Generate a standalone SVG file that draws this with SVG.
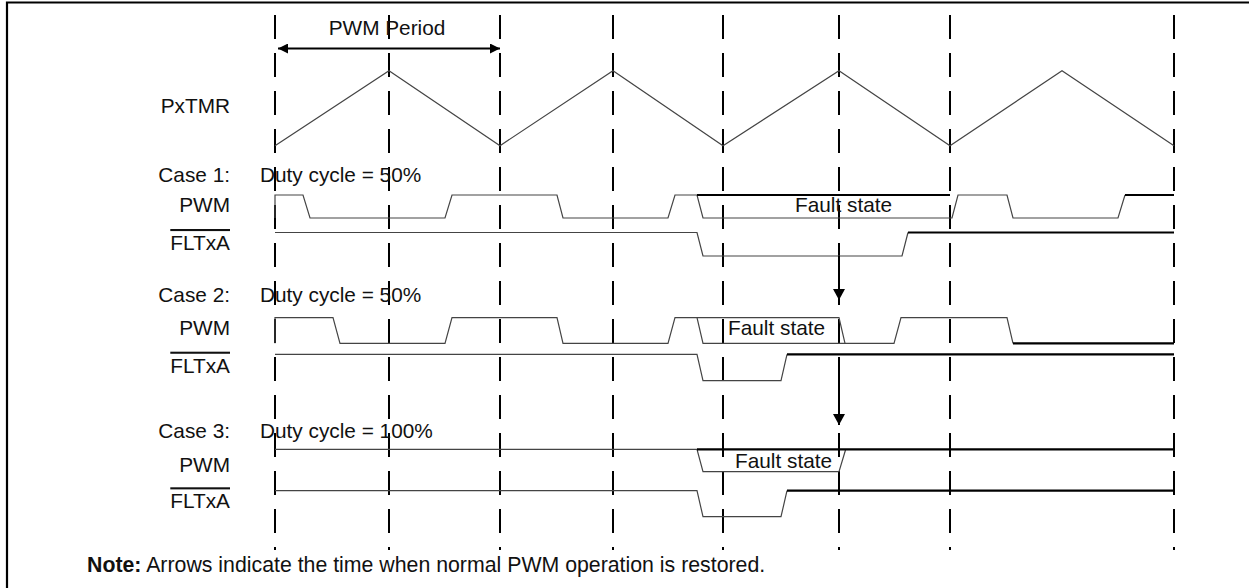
<svg xmlns="http://www.w3.org/2000/svg" width="1249" height="588" viewBox="0 0 1249 588">
<style>
text{font-family:"Liberation Sans",Arial,sans-serif;font-size:20.8px;fill:#111}
.lbl{text-anchor:end}
.ov{text-decoration:overline}
.grid line{stroke:#000;stroke-width:2;stroke-dasharray:24 14}
.thin{fill:none;stroke:#444;stroke-width:1.2;stroke-linejoin:miter}
.thick{fill:none;stroke:#000;stroke-width:2.2}
.conn{stroke:#000;stroke-width:2;fill:none}
</style>
<defs>
<marker id="ah" viewBox="0 0 10 10" refX="10" refY="5" markerWidth="10" markerHeight="10" markerUnits="userSpaceOnUse" orient="auto-start-reverse">
<path d="M0,0 L10,5 L0,10 Z" fill="#000"/>
</marker>
<marker id="dh" viewBox="0 0 11 12" refX="11" refY="6" markerWidth="11" markerHeight="12" markerUnits="userSpaceOnUse" orient="auto">
<path d="M0,0 L11,6 L0,12 Z" fill="#000"/>
</marker>
</defs>
<rect width="1249" height="588" fill="#fff"/>
<path d="M7,592 V2.5 H1252" fill="none" stroke="#000" stroke-width="2.2"/>

<g id="gridlines" class="grid">
<line x1="275" y1="15" x2="275" y2="550"/>
<line x1="389" y1="15" x2="389" y2="550"/>
<line x1="500" y1="15" x2="500" y2="550"/>
<line x1="613" y1="15" x2="613" y2="550"/>
<line x1="723" y1="15" x2="723" y2="550"/>
<line x1="839" y1="15" x2="839" y2="550"/>
<line x1="950" y1="15" x2="950" y2="550"/>
<line x1="1174" y1="15" x2="1174" y2="550"/>
</g>

<g id="pwm-period">
<text x="387" y="35" text-anchor="middle">PWM Period</text>
</g>

<g id="pxtmr">
<text class="lbl" x="230" y="113">PxTMR</text>
<path class="thin" d="M275,145.7 L389,70.7 L500,145.7 L613,70.7 L723,145.7 L839,70.7 L950,145.7 L1062,70.7 L1174,145.7"/>
</g>

<g id="case1">
<text class="lbl" x="230" y="182">Case 1:</text>
<text x="260" y="182">Duty cycle = 50%</text>
</g>
<g id="case1-pwm">
<text class="lbl" x="230" y="211.7">PWM</text>
<path class="thin" d="M275,218 V195 H303 L310,218 H445 L452,195 H557 L563,218 H668 L675,195 H697 L703,218 H952 L958,195 H1007 L1013,218 H1118 L1125,195"/>
<path class="thick" d="M697,195 H950 M1125,195 H1174"/>
<text x="795" y="211.7">Fault state</text>
</g>
<g id="case1-flt">
<text class="lbl ov" x="230" y="250">FLTxA</text>
<path class="thin" d="M275,232.5 H697 L703,256 H902 L908,232.5"/>
<path class="thick" d="M908,232.5 H1174"/>
</g>

<g id="case2">
<text class="lbl" x="230" y="301.7">Case 2:</text>
<text x="260" y="301.7">Duty cycle = 50%</text>
</g>
<g id="case2-pwm">
<text class="lbl" x="230" y="335">PWM</text>
<path class="thin" d="M275,343.3 V317.7 H333 L340,343.3 H445 L452,317.7 H557 L563,343.3 H668 L675,317.7 H697 L703,343.3 H894 L901,317.7 H1007 L1013,343.3"/>
<path class="thin" d="M697,317.7 H839 L845,343.3"/>
<path class="thick" d="M1013,343.3 H1174"/>
<text x="728" y="335">Fault state</text>
</g>
<g id="case2-flt">
<text class="lbl ov" x="230" y="372.7">FLTxA</text>
<path class="thin" d="M275,354.3 H697 L703,380.7 H781 L787,354.3"/>
<path class="thick" d="M787,354.3 H1174"/>
</g>

<g id="case3">
<text class="lbl" x="230" y="438.3">Case 3:</text>
<text x="260" y="438.3">Duty cycle = 100%</text>
</g>
<g id="case3-pwm">
<text class="lbl" x="230" y="471.7">PWM</text>
<path class="thin" d="M275,449.3 H697 L703,471.7 H839 L845.5,450"/>
<path class="thick" d="M697,449.3 H1174"/>
<text x="735" y="468">Fault state</text>
</g>
<g id="case3-flt">
<text class="lbl ov" x="230" y="508.3">FLTxA</text>
<path class="thin" d="M275,490.7 H697 L703,516.7 H781 L787,490.7"/>
<path class="thick" d="M787,490.7 H1174"/>
</g>

<g id="connectors">
<line class="conn" x1="278" y1="48.5" x2="500" y2="48.5" marker-start="url(#ah)" marker-end="url(#ah)"/>
<line class="conn" x1="839" y1="256" x2="839" y2="300" marker-end="url(#dh)"/>
<line class="conn" x1="839" y1="379" x2="839" y2="425" marker-end="url(#dh)"/>
</g>

<g id="note">
<text x="87" y="571.7" style="font-size:21.3px"><tspan font-weight="bold">Note:</tspan> Arrows indicate the time when normal PWM operation is restored.</text>
</g>
</svg>
